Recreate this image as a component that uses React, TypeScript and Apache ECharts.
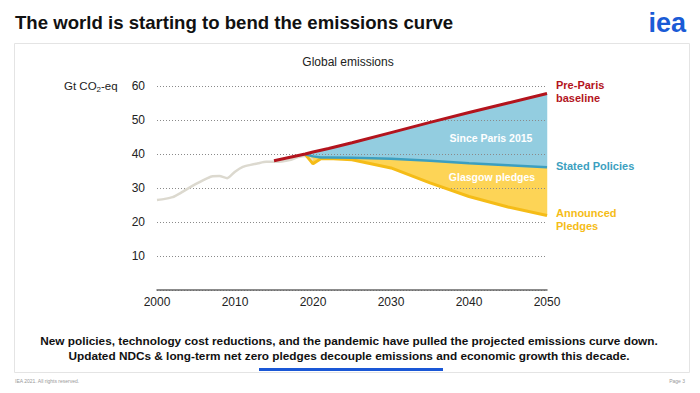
import React, { useEffect, useRef } from "react";
import * as echarts from "echarts";

const histYears = [2000, 2001, 2002, 2003, 2004, 2005, 2006, 2007, 2008, 2009, 2010, 2011, 2012, 2013, 2014, 2015, 2016, 2017, 2018, 2019, 2020];
const histValues = [26.5, 26.8, 27.3, 28.5, 29.9, 31.2, 32.4, 33.4, 33.5, 32.9, 34.8, 36.2, 36.8, 37.3, 37.7, 37.7, 37.8, 38.2, 39.0, 39.4, 38.2];

const baselineYears = [2015, 2019, 2020, 2021, 2022, 2025, 2030, 2035, 2040, 2045, 2050];
const baselineValues = [38.0, 40.0, 40.6, 41.1, 41.6, 43.3, 46.3, 49.3, 52.2, 55.0, 57.8];

const projYears = [2019, 2020, 2021, 2022, 2025, 2030, 2035, 2040, 2045, 2050];
const statedValues = [39.9, 39.3, 39.0, 39.0, 38.9, 38.6, 38.0, 37.3, 36.7, 36.1];
const announcedValues = [39.9, 37.1, 38.6, 38.7, 38.3, 35.9, 31.5, 27.5, 24.4, 21.9];

const xTicks = [2000, 2010, 2020, 2030, 2040, 2050];
const yTicks = [10, 20, 30, 40, 50, 60];

const FONT = "Liberation Sans, Arial, sans-serif";
const RED = "#b3141d";
const TEAL = "#3c9fc0";
const YELLOW_LINE = "#f5bc17";
const YELLOW_AREA = "#fdd456";
const BLUE_AREA = "#93cde0";

export default function App() {
  const ref = useRef<HTMLDivElement>(null);
  useEffect(() => {
    document.body.style.margin = "0";
    const chart = echarts.init(ref.current!, null, { renderer: "svg" });
    const baseProj = baselineValues.slice(baselineYears.indexOf(projYears[0]));
    const pair = (xs: number[], ys: number[]) => xs.map((x, i) => [x, ys[i]]);

    const band = (name: string, upper: number[], lower: number[], color: string) => ({
      type: "custom",
      name,
      data: projYears.map((x, i) => [x, upper[i], lower[i]]),
      encode: { x: 0, y: [1, 2] },
      z: 1,
      silent: true,
      renderItem: (params: any, api: any) => {
        if (params.dataIndex !== 0) return null;
        const top = projYears.map((x, i) => api.coord([x, upper[i]]));
        const bottom = projYears.map((x, i) => api.coord([x, lower[i]])).reverse();
        return {
          type: "polygon",
          shape: { points: top.concat(bottom) },
          style: { fill: color, stroke: color, lineWidth: 0.5 },
        };
      },
    });

    chart.setOption({
      animation: false,
      grid: { left: 157, right: 153, top: 86, bottom: 103 },
      xAxis: {
        type: "value",
        min: 2000,
        max: 2050,
        interval: 10,
        z: 4,
        axisLine: { show: true, lineStyle: { color: "#666", width: 1.5 } },
        axisTick: { show: false },
        splitLine: { show: false },
        axisLabel: {
          color: "#222",
          fontFamily: FONT,
          fontSize: 12,
          margin: 6,
          formatter: (v: number) => (xTicks.includes(v) ? String(v) : ""),
        },
      },
      yAxis: {
        type: "value",
        min: 0,
        max: 60,
        interval: 10,
        z: 3,
        axisLine: { show: false },
        axisTick: { show: false },
        axisLabel: {
          color: "#222",
          fontFamily: FONT,
          fontSize: 12,
          margin: 12,
          formatter: (v: number) => (yTicks.includes(v) ? String(v) : ""),
        },
        splitLine: { show: true, lineStyle: { color: "#8a8a8a", type: [1, 2], width: 1 } },
      },
      series: [
        band("Since Paris 2015", baseProj, statedValues, BLUE_AREA),
        band("Glasgow pledges", statedValues, announcedValues, YELLOW_AREA),
        {
          type: "line",
          name: "historical",
          data: pair(histYears, histValues),
          symbol: "none",
          smooth: 0.2,
          lineStyle: { color: "#dcd9cf", width: 2.5 },
          z: 4,
        },
        {
          type: "line",
          name: "Announced Pledges",
          data: pair(projYears, announcedValues),
          symbol: "none",
          lineStyle: { color: YELLOW_LINE, width: 3 },
          z: 5,
        },
        {
          type: "line",
          name: "Stated Policies",
          data: pair(projYears, statedValues),
          symbol: "none",
          lineStyle: { color: TEAL, width: 2.5 },
          z: 5,
        },
        {
          type: "line",
          name: "Pre-Paris baseline",
          data: pair(baselineYears, baselineValues),
          symbol: "none",
          lineStyle: { color: RED, width: 3 },
          z: 6,
        },
      ],
      graphic: [
        {
          type: "rect",
          z: -10,
          shape: { x: 14.5, y: 43.5, width: 675, height: 329 },
          style: { fill: "#fff", stroke: "#e4e4e4", lineWidth: 1 },
        },
        {
          type: "text",
          x: 15,
          y: 22,
          style: { text: "The world is starting to bend the emissions curve", font: `bold 18.6px ${FONT}`, fill: "#111", textVerticalAlign: "middle" },
        },
        {
          type: "text",
          x: 686,
          y: 23,
          style: { text: "iea", font: `900 27px ${FONT}`, fill: "#1a5bd6", textAlign: "right", textVerticalAlign: "middle" },
        },
        {
          type: "text",
          x: 348,
          y: 62,
          style: { text: "Global emissions", font: `12px ${FONT}`, fill: "#222", textAlign: "center", textVerticalAlign: "middle" },
        },
        {
          type: "text",
          x: 64,
          y: 86,
          style: {
            text: "Gt CO{s|2}-eq",
            font: `11.5px ${FONT}`,
            fill: "#222",
            textVerticalAlign: "middle",
            rich: { s: { fontSize: 8, fontFamily: FONT, fill: "#222", padding: [6, 0, 0, 0] } },
          },
        },
        {
          type: "text",
          x: 556,
          y: 78,
          style: { text: "Pre-Paris\nbaseline", font: `bold 11px ${FONT}`, fill: RED, lineHeight: 13 },
        },
        {
          type: "text",
          x: 556,
          y: 165.5,
          style: { text: "Stated Policies", font: `bold 11px ${FONT}`, fill: TEAL, textVerticalAlign: "middle" },
        },
        {
          type: "text",
          x: 556,
          y: 206.5,
          style: { text: "Announced\nPledges", font: `bold 11px ${FONT}`, fill: YELLOW_LINE, lineHeight: 13 },
        },
        {
          type: "text",
          x: 491,
          y: 138,
          z: 10,
          style: { text: "Since Paris 2015", font: `bold 10.5px ${FONT}`, fill: "#fff", textAlign: "center", textVerticalAlign: "middle" },
        },
        {
          type: "text",
          x: 492,
          y: 177,
          z: 10,
          style: { text: "Glasgow pledges", font: `bold 10.5px ${FONT}`, fill: "#fff", textAlign: "center", textVerticalAlign: "middle" },
        },
        {
          type: "text",
          x: 349,
          y: 341,
          style: {
            text: "New policies, technology cost reductions, and the pandemic have pulled the projected emissions curve down.",
            font: `bold 11.8px ${FONT}`,
            fill: "#111",
            textAlign: "center",
            textVerticalAlign: "middle",
          },
        },
        {
          type: "text",
          x: 349,
          y: 356,
          style: {
            text: "Updated NDCs & long-term net zero pledges decouple emissions and economic growth this decade.",
            font: `bold 11.8px ${FONT}`,
            fill: "#111",
            textAlign: "center",
            textVerticalAlign: "middle",
          },
        },
        {
          type: "rect",
          shape: { x: 259, y: 368, width: 184, height: 3 },
          style: { fill: "#1a57d6" },
        },
        {
          type: "text",
          x: 15,
          y: 381,
          style: { text: "IEA 2021. All rights reserved.", font: `5px ${FONT}`, fill: "#999", textVerticalAlign: "middle" },
        },
        {
          type: "text",
          x: 685,
          y: 381,
          style: { text: "Page 3", font: `5px ${FONT}`, fill: "#999", textAlign: "right", textVerticalAlign: "middle" },
        },
      ],
    });
    return () => chart.dispose();
  }, []);
  return <div ref={ref} style={{ width: 700, height: 393 }} />;
}
